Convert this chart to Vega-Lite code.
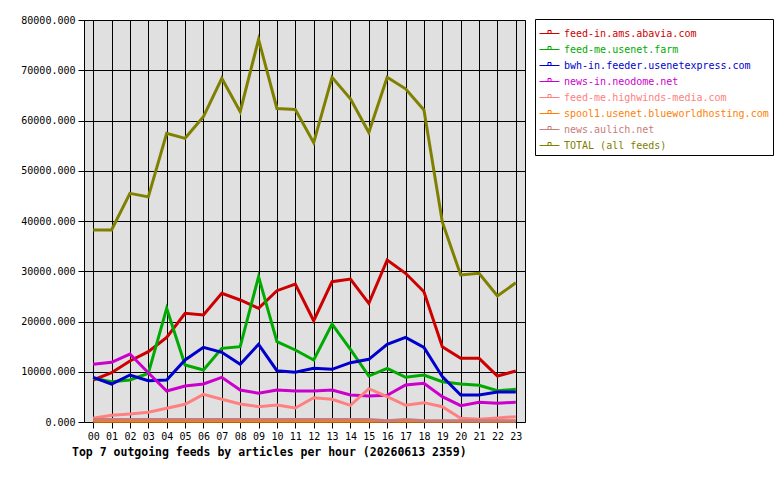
{
  "$schema": "https://vega.github.io/schema/vega-lite/v6.json",
  "width": 441,
  "height": 402,
  "autosize": {"type": "none"},
  "padding": {"left": 84, "top": 20, "right": 255, "bottom": 58},
  "background": "white",
  "datasets": {
    "feeds": [
      {"feed": "feed-in.ams.abavia.com", "hour": 0, "articles": 8360}, {"feed": "feed-in.ams.abavia.com", "hour": 1, "articles": 9800}, {"feed": "feed-in.ams.abavia.com", "hour": 2, "articles": 12140}, {"feed": "feed-in.ams.abavia.com", "hour": 3, "articles": 14000}, {"feed": "feed-in.ams.abavia.com", "hour": 4, "articles": 16850}, {"feed": "feed-in.ams.abavia.com", "hour": 5, "articles": 21630}, {"feed": "feed-in.ams.abavia.com", "hour": 6, "articles": 21300}, {"feed": "feed-in.ams.abavia.com", "hour": 7, "articles": 25600}, {"feed": "feed-in.ams.abavia.com", "hour": 8, "articles": 24280}, {"feed": "feed-in.ams.abavia.com", "hour": 9, "articles": 22620}, {"feed": "feed-in.ams.abavia.com", "hour": 10, "articles": 26130}, {"feed": "feed-in.ams.abavia.com", "hour": 11, "articles": 27460}, {"feed": "feed-in.ams.abavia.com", "hour": 12, "articles": 20160}, {"feed": "feed-in.ams.abavia.com", "hour": 13, "articles": 27920}, {"feed": "feed-in.ams.abavia.com", "hour": 14, "articles": 28460}, {"feed": "feed-in.ams.abavia.com", "hour": 15, "articles": 23620}, {"feed": "feed-in.ams.abavia.com", "hour": 16, "articles": 32240}, {"feed": "feed-in.ams.abavia.com", "hour": 17, "articles": 29590}, {"feed": "feed-in.ams.abavia.com", "hour": 18, "articles": 25930}, {"feed": "feed-in.ams.abavia.com", "hour": 19, "articles": 14990}, {"feed": "feed-in.ams.abavia.com", "hour": 20, "articles": 12670}, {"feed": "feed-in.ams.abavia.com", "hour": 21, "articles": 12670}, {"feed": "feed-in.ams.abavia.com", "hour": 22, "articles": 9150}, {"feed": "feed-in.ams.abavia.com", "hour": 23, "articles": 10150},
      {"feed": "feed-me.usenet.farm", "hour": 0, "articles": 8690}, {"feed": "feed-me.usenet.farm", "hour": 1, "articles": 8020}, {"feed": "feed-me.usenet.farm", "hour": 2, "articles": 8360}, {"feed": "feed-me.usenet.farm", "hour": 3, "articles": 9690}, {"feed": "feed-me.usenet.farm", "hour": 4, "articles": 22620}, {"feed": "feed-me.usenet.farm", "hour": 5, "articles": 11340}, {"feed": "feed-me.usenet.farm", "hour": 6, "articles": 10350}, {"feed": "feed-me.usenet.farm", "hour": 7, "articles": 14660}, {"feed": "feed-me.usenet.farm", "hour": 8, "articles": 14990}, {"feed": "feed-me.usenet.farm", "hour": 9, "articles": 28920}, {"feed": "feed-me.usenet.farm", "hour": 10, "articles": 15980}, {"feed": "feed-me.usenet.farm", "hour": 11, "articles": 14330}, {"feed": "feed-me.usenet.farm", "hour": 12, "articles": 12340}, {"feed": "feed-me.usenet.farm", "hour": 13, "articles": 19500}, {"feed": "feed-me.usenet.farm", "hour": 14, "articles": 14460}, {"feed": "feed-me.usenet.farm", "hour": 15, "articles": 9150}, {"feed": "feed-me.usenet.farm", "hour": 16, "articles": 10680}, {"feed": "feed-me.usenet.farm", "hour": 17, "articles": 8890}, {"feed": "feed-me.usenet.farm", "hour": 18, "articles": 9350}, {"feed": "feed-me.usenet.farm", "hour": 19, "articles": 8020}, {"feed": "feed-me.usenet.farm", "hour": 20, "articles": 7560}, {"feed": "feed-me.usenet.farm", "hour": 21, "articles": 7300}, {"feed": "feed-me.usenet.farm", "hour": 22, "articles": 6230}, {"feed": "feed-me.usenet.farm", "hour": 23, "articles": 6500},
      {"feed": "bwh-in.feeder.usenetexpress.com", "hour": 0, "articles": 8890}, {"feed": "bwh-in.feeder.usenetexpress.com", "hour": 1, "articles": 7560}, {"feed": "bwh-in.feeder.usenetexpress.com", "hour": 2, "articles": 9350}, {"feed": "bwh-in.feeder.usenetexpress.com", "hour": 3, "articles": 8220}, {"feed": "bwh-in.feeder.usenetexpress.com", "hour": 4, "articles": 8360}, {"feed": "bwh-in.feeder.usenetexpress.com", "hour": 5, "articles": 12340}, {"feed": "bwh-in.feeder.usenetexpress.com", "hour": 6, "articles": 14860}, {"feed": "bwh-in.feeder.usenetexpress.com", "hour": 7, "articles": 13870}, {"feed": "bwh-in.feeder.usenetexpress.com", "hour": 8, "articles": 11480}, {"feed": "bwh-in.feeder.usenetexpress.com", "hour": 9, "articles": 15460}, {"feed": "bwh-in.feeder.usenetexpress.com", "hour": 10, "articles": 10210}, {"feed": "bwh-in.feeder.usenetexpress.com", "hour": 11, "articles": 9890}, {"feed": "bwh-in.feeder.usenetexpress.com", "hour": 12, "articles": 10680}, {"feed": "bwh-in.feeder.usenetexpress.com", "hour": 13, "articles": 10480}, {"feed": "bwh-in.feeder.usenetexpress.com", "hour": 14, "articles": 11800}, {"feed": "bwh-in.feeder.usenetexpress.com", "hour": 15, "articles": 12470}, {"feed": "bwh-in.feeder.usenetexpress.com", "hour": 16, "articles": 15460}, {"feed": "bwh-in.feeder.usenetexpress.com", "hour": 17, "articles": 16850}, {"feed": "bwh-in.feeder.usenetexpress.com", "hour": 18, "articles": 14860}, {"feed": "bwh-in.feeder.usenetexpress.com", "hour": 19, "articles": 9020}, {"feed": "bwh-in.feeder.usenetexpress.com", "hour": 20, "articles": 5370}, {"feed": "bwh-in.feeder.usenetexpress.com", "hour": 21, "articles": 5370}, {"feed": "bwh-in.feeder.usenetexpress.com", "hour": 22, "articles": 5970}, {"feed": "bwh-in.feeder.usenetexpress.com", "hour": 23, "articles": 5970},
      {"feed": "news-in.neodome.net", "hour": 0, "articles": 11480}, {"feed": "news-in.neodome.net", "hour": 1, "articles": 11880}, {"feed": "news-in.neodome.net", "hour": 2, "articles": 13530}, {"feed": "news-in.neodome.net", "hour": 3, "articles": 9810}, {"feed": "news-in.neodome.net", "hour": 4, "articles": 6170}, {"feed": "news-in.neodome.net", "hour": 5, "articles": 7160}, {"feed": "news-in.neodome.net", "hour": 6, "articles": 7560}, {"feed": "news-in.neodome.net", "hour": 7, "articles": 8890}, {"feed": "news-in.neodome.net", "hour": 8, "articles": 6370}, {"feed": "news-in.neodome.net", "hour": 9, "articles": 5710}, {"feed": "news-in.neodome.net", "hour": 10, "articles": 6370}, {"feed": "news-in.neodome.net", "hour": 11, "articles": 6170}, {"feed": "news-in.neodome.net", "hour": 12, "articles": 6170}, {"feed": "news-in.neodome.net", "hour": 13, "articles": 6370}, {"feed": "news-in.neodome.net", "hour": 14, "articles": 5370}, {"feed": "news-in.neodome.net", "hour": 15, "articles": 5170}, {"feed": "news-in.neodome.net", "hour": 16, "articles": 5310}, {"feed": "news-in.neodome.net", "hour": 17, "articles": 7360}, {"feed": "news-in.neodome.net", "hour": 18, "articles": 7700}, {"feed": "news-in.neodome.net", "hour": 19, "articles": 5040}, {"feed": "news-in.neodome.net", "hour": 20, "articles": 3250}, {"feed": "news-in.neodome.net", "hour": 21, "articles": 3920}, {"feed": "news-in.neodome.net", "hour": 22, "articles": 3720}, {"feed": "news-in.neodome.net", "hour": 23, "articles": 3920},
      {"feed": "feed-me.highwinds-media.com", "hour": 0, "articles": 730}, {"feed": "feed-me.highwinds-media.com", "hour": 1, "articles": 1330}, {"feed": "feed-me.highwinds-media.com", "hour": 2, "articles": 1590}, {"feed": "feed-me.highwinds-media.com", "hour": 3, "articles": 1930}, {"feed": "feed-me.highwinds-media.com", "hour": 4, "articles": 2720}, {"feed": "feed-me.highwinds-media.com", "hour": 5, "articles": 3520}, {"feed": "feed-me.highwinds-media.com", "hour": 6, "articles": 5510}, {"feed": "feed-me.highwinds-media.com", "hour": 7, "articles": 4520}, {"feed": "feed-me.highwinds-media.com", "hour": 8, "articles": 3580}, {"feed": "feed-me.highwinds-media.com", "hour": 9, "articles": 3050}, {"feed": "feed-me.highwinds-media.com", "hour": 10, "articles": 3380}, {"feed": "feed-me.highwinds-media.com", "hour": 11, "articles": 2790}, {"feed": "feed-me.highwinds-media.com", "hour": 12, "articles": 4840}, {"feed": "feed-me.highwinds-media.com", "hour": 13, "articles": 4520}, {"feed": "feed-me.highwinds-media.com", "hour": 14, "articles": 3320}, {"feed": "feed-me.highwinds-media.com", "hour": 15, "articles": 6630}, {"feed": "feed-me.highwinds-media.com", "hour": 16, "articles": 5040}, {"feed": "feed-me.highwinds-media.com", "hour": 17, "articles": 3320}, {"feed": "feed-me.highwinds-media.com", "hour": 18, "articles": 3850}, {"feed": "feed-me.highwinds-media.com", "hour": 19, "articles": 3050}, {"feed": "feed-me.highwinds-media.com", "hour": 20, "articles": 730}, {"feed": "feed-me.highwinds-media.com", "hour": 21, "articles": 540}, {"feed": "feed-me.highwinds-media.com", "hour": 22, "articles": 800}, {"feed": "feed-me.highwinds-media.com", "hour": 23, "articles": 1060},
      {"feed": "spool1.usenet.blueworldhosting.com", "hour": 0, "articles": 150}, {"feed": "spool1.usenet.blueworldhosting.com", "hour": 1, "articles": 150}, {"feed": "spool1.usenet.blueworldhosting.com", "hour": 2, "articles": 150}, {"feed": "spool1.usenet.blueworldhosting.com", "hour": 3, "articles": 150}, {"feed": "spool1.usenet.blueworldhosting.com", "hour": 4, "articles": 150}, {"feed": "spool1.usenet.blueworldhosting.com", "hour": 5, "articles": 150}, {"feed": "spool1.usenet.blueworldhosting.com", "hour": 6, "articles": 150}, {"feed": "spool1.usenet.blueworldhosting.com", "hour": 7, "articles": 150}, {"feed": "spool1.usenet.blueworldhosting.com", "hour": 8, "articles": 150}, {"feed": "spool1.usenet.blueworldhosting.com", "hour": 9, "articles": 150}, {"feed": "spool1.usenet.blueworldhosting.com", "hour": 10, "articles": 150}, {"feed": "spool1.usenet.blueworldhosting.com", "hour": 11, "articles": 150}, {"feed": "spool1.usenet.blueworldhosting.com", "hour": 12, "articles": 150}, {"feed": "spool1.usenet.blueworldhosting.com", "hour": 13, "articles": 150}, {"feed": "spool1.usenet.blueworldhosting.com", "hour": 14, "articles": 150}, {"feed": "spool1.usenet.blueworldhosting.com", "hour": 15, "articles": 150}, {"feed": "spool1.usenet.blueworldhosting.com", "hour": 16, "articles": 150}, {"feed": "spool1.usenet.blueworldhosting.com", "hour": 17, "articles": 150}, {"feed": "spool1.usenet.blueworldhosting.com", "hour": 18, "articles": 150}, {"feed": "spool1.usenet.blueworldhosting.com", "hour": 19, "articles": 150}, {"feed": "spool1.usenet.blueworldhosting.com", "hour": 20, "articles": 150}, {"feed": "spool1.usenet.blueworldhosting.com", "hour": 21, "articles": 150}, {"feed": "spool1.usenet.blueworldhosting.com", "hour": 22, "articles": 150}, {"feed": "spool1.usenet.blueworldhosting.com", "hour": 23, "articles": 150},
      {"feed": "news.aulich.net", "hour": 0, "articles": 480}, {"feed": "news.aulich.net", "hour": 1, "articles": 480}, {"feed": "news.aulich.net", "hour": 2, "articles": 480}, {"feed": "news.aulich.net", "hour": 3, "articles": 480}, {"feed": "news.aulich.net", "hour": 4, "articles": 480}, {"feed": "news.aulich.net", "hour": 5, "articles": 480}, {"feed": "news.aulich.net", "hour": 6, "articles": 480}, {"feed": "news.aulich.net", "hour": 7, "articles": 480}, {"feed": "news.aulich.net", "hour": 8, "articles": 480}, {"feed": "news.aulich.net", "hour": 9, "articles": 480}, {"feed": "news.aulich.net", "hour": 10, "articles": 480}, {"feed": "news.aulich.net", "hour": 11, "articles": 480}, {"feed": "news.aulich.net", "hour": 12, "articles": 480}, {"feed": "news.aulich.net", "hour": 13, "articles": 480}, {"feed": "news.aulich.net", "hour": 14, "articles": 480}, {"feed": "news.aulich.net", "hour": 15, "articles": 480}, {"feed": "news.aulich.net", "hour": 16, "articles": 230}, {"feed": "news.aulich.net", "hour": 17, "articles": 480}, {"feed": "news.aulich.net", "hour": 18, "articles": 250}, {"feed": "news.aulich.net", "hour": 19, "articles": 250}, {"feed": "news.aulich.net", "hour": 20, "articles": 250}, {"feed": "news.aulich.net", "hour": 21, "articles": 250}, {"feed": "news.aulich.net", "hour": 22, "articles": 250}, {"feed": "news.aulich.net", "hour": 23, "articles": 250},
      {"feed": "TOTAL (all feeds)", "hour": 0, "articles": 38200}, {"feed": "TOTAL (all feeds)", "hour": 1, "articles": 38200}, {"feed": "TOTAL (all feeds)", "hour": 2, "articles": 45500}, {"feed": "TOTAL (all feeds)", "hour": 3, "articles": 44800}, {"feed": "TOTAL (all feeds)", "hour": 4, "articles": 57450}, {"feed": "TOTAL (all feeds)", "hour": 5, "articles": 56450}, {"feed": "TOTAL (all feeds)", "hour": 6, "articles": 60750}, {"feed": "TOTAL (all feeds)", "hour": 7, "articles": 68400}, {"feed": "TOTAL (all feeds)", "hour": 8, "articles": 61750}, {"feed": "TOTAL (all feeds)", "hour": 9, "articles": 76150}, {"feed": "TOTAL (all feeds)", "hour": 10, "articles": 62400}, {"feed": "TOTAL (all feeds)", "hour": 11, "articles": 62200}, {"feed": "TOTAL (all feeds)", "hour": 12, "articles": 55600}, {"feed": "TOTAL (all feeds)", "hour": 13, "articles": 68600}, {"feed": "TOTAL (all feeds)", "hour": 14, "articles": 64300}, {"feed": "TOTAL (all feeds)", "hour": 15, "articles": 57600}, {"feed": "TOTAL (all feeds)", "hour": 16, "articles": 68600}, {"feed": "TOTAL (all feeds)", "hour": 17, "articles": 66300}, {"feed": "TOTAL (all feeds)", "hour": 18, "articles": 62100}, {"feed": "TOTAL (all feeds)", "hour": 19, "articles": 39800}, {"feed": "TOTAL (all feeds)", "hour": 20, "articles": 29250}, {"feed": "TOTAL (all feeds)", "hour": 21, "articles": 29600}, {"feed": "TOTAL (all feeds)", "hour": 22, "articles": 25070}, {"feed": "TOTAL (all feeds)", "hour": 23, "articles": 27700}
    ]
  },
  "data": {"name": "feeds"},
  "title": {
    "text": "Top 7 outgoing feeds by articles per hour (20260613 2359)",
    "orient": "bottom",
    "anchor": "start",
    "frame": "group",
    "dx": -12,
    "offset": 6,
    "font": "DejaVu Sans Mono",
    "fontSize": 11.5,
    "fontWeight": "bold",
    "color": "black"
  },
  "mark": {"type": "line", "strokeWidth": 3, "strokeJoin": "miter", "interpolate": "linear"},
  "encoding": {
    "x": {
      "field": "hour",
      "type": "quantitative",
      "scale": {"domain": [-0.5, 23.5], "nice": false, "zero": false},
      "axis": {
        "title": null,
        "values": [0,1,2,3,4,5,6,7,8,9,10,11,12,13,14,15,16,17,18,19,20,21,22,23],
        "labelExpr": "datum.value < 10 ? '0' + datum.value : '' + datum.value",
        "grid": true,
        "gridColor": "black",
        "gridOpacity": 1,
        "gridWidth": 1,
        "domain": false,
        "tickColor": "black",
        "tickSize": 6,
        "labelPadding": 3,
        "labelFont": "DejaVu Sans Mono",
        "labelFontSize": 10,
        "labelColor": "black",
        "labelOverlap": false,
        "labelFlush": false
      }
    },
    "y": {
      "field": "articles",
      "type": "quantitative",
      "scale": {"domain": [0, 80000], "nice": false},
      "axis": {
        "title": null,
        "values": [0,10000,20000,30000,40000,50000,60000,70000,80000],
        "format": ".3f",
        "grid": true,
        "gridColor": "black",
        "gridOpacity": 1,
        "gridWidth": 1,
        "domain": false,
        "tickColor": "black",
        "tickSize": 6,
        "labelPadding": 3,
        "labelFont": "DejaVu Sans Mono",
        "labelFontSize": 10,
        "labelColor": "black",
        "labelFlush": false
      }
    },
    "color": {
      "field": "feed",
      "type": "nominal",
      "sort": null,
      "scale": {
        "domain": ["feed-in.ams.abavia.com", "feed-me.usenet.farm", "bwh-in.feeder.usenetexpress.com", "news-in.neodome.net", "feed-me.highwinds-media.com", "spool1.usenet.blueworldhosting.com", "news.aulich.net", "TOTAL (all feeds)"],
        "range": ["#cc0000", "#00aa00", "#0000cc", "#cc00cc", "#ff8080", "#ff8000", "#c87c7c", "#808000"]
      },
      "legend": {
        "title": null,
        "orient": "none",
        "legendX": 451,
        "legendY": -1,
        "direction": "vertical",
        "strokeColor": "black",
        "fillColor": "white",
        "padding": 4,
        "rowPadding": 0,
        "symbolType": "M-1,0H1M-0.15,0V-0.3H0.15V0",
        "symbolSize": 64,
        "symbolStrokeWidth": 1,
        "symbolFillColor": "transparent",
        "labelOffset": 4,
        "labelFont": "DejaVu Sans Mono",
        "labelFontSize": 10,
        "labelLimit": 300,
        "encode": {
          "labels": {"update": {"fill": {"scale": "color", "field": "value"}}},
          "symbols": {"update": {"size": {"value": 400}}}
        }
      }
    }
  },
  "config": {
    "view": {"fill": "#e0e0e0", "stroke": "black", "strokeWidth": 1}
  }
}
